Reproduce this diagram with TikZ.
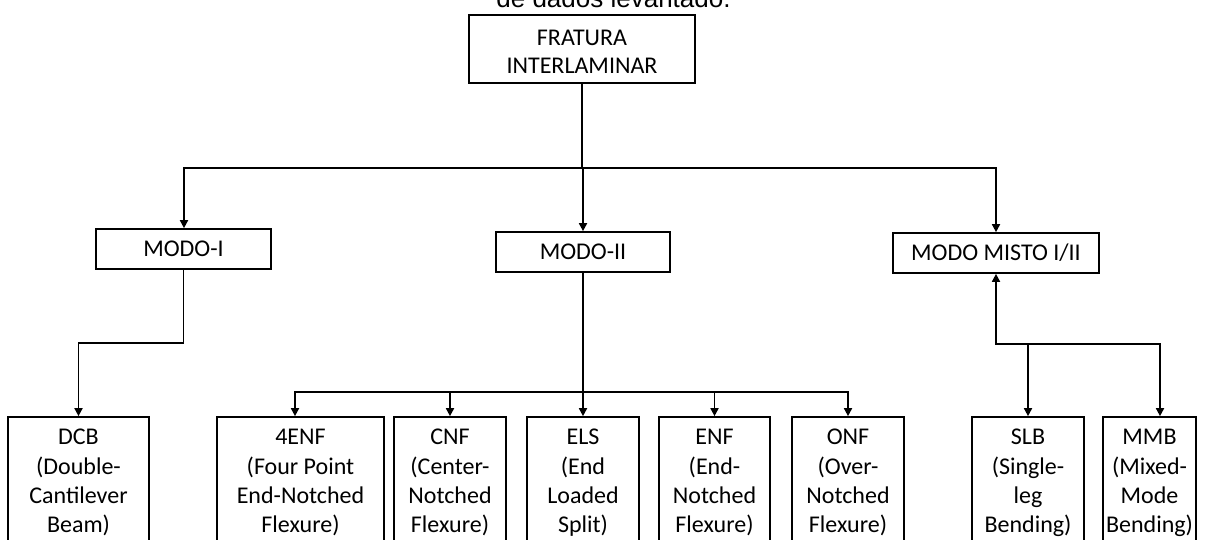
\documentclass[tikz,border=0pt]{standalone}
\usepackage{fontspec}
\setmainfont{Carlito}
\newfontfamily\arialfont{Liberation Sans}
\usetikzlibrary{arrows.meta}
\begin{document}
\begin{tikzpicture}[x=1pt,y=-1pt,
  box/.style={draw=black, line width=1.7pt, inner sep=0pt, align=center, text=black,
    font=\fontsize{24}{29.3}\selectfont},
  bbox/.style={box, minimum height=132pt},
  conn/.style={line width=1.7pt, line cap=rect},
  arr/.style={conn, -{Triangle[length=8pt,width=8pt]}}]
\clip (0,0) rectangle (1206,539);
\fill[white] (0,0) rectangle (1206,539);
% caption fragment
\node[font=\arialfont\fontsize{26}{30}\selectfont, anchor=base, inner sep=0pt] (cap) at (613.5,7.5) {de dados levantado.};
% main boxes
\node[box, minimum width=226pt, minimum height=68pt, font=\fontsize{24}{28}\selectfont] (top) at (582,49) {\rule{0pt}{20pt}FRATURA\\INTERLAMINAR};
\node[box, minimum width=175pt, minimum height=40pt] (m1) at (183.5,249) {MODO-I};
\node[box, minimum width=174pt, minimum height=40pt] (m2) at (583,252) {MODO-II};
\node[box, minimum width=206pt, minimum height=40pt] (m3) at (996,253) {MODO MISTO I/II};
% bottom boxes
\node[bbox, minimum width=141pt] (dcb) at (78.5,483) {\strut DCB\\(Double-\\Cantilever\\Beam)\strut};
\node[bbox, minimum width=167pt] (e4) at (300.5,483) {\strut 4ENF\\(Four Point\\End-Notched\\Flexure)\strut};
\node[bbox, minimum width=112pt] (cnf) at (450,483) {\strut CNF\\(Center-\\Notched\\Flexure)\strut};
\node[bbox, minimum width=112pt] (els) at (583,483) {\strut ELS\\(End\\Loaded\\Split)\strut};
\node[bbox, minimum width=111pt] (enf) at (714.5,483) {\strut ENF\\(End-\\Notched\\Flexure)\strut};
\node[bbox, minimum width=112pt] (onf) at (848,483) {\strut ONF\\(Over-\\Notched\\Flexure)\strut};
\node[bbox, minimum width=112pt] (slb) at (1028,483) {\strut SLB\\(Single-\\leg\\Bending)\strut};
\node[bbox, minimum width=93pt] (mmb) at (1149.5,483) {\strut MMB\\(Mixed-\\Mode\\Bending)\strut};
% top level connectors
\coordinate (hl) at (184,168);
\coordinate (hr) at (996,168);
\draw[conn] (top.south) -- (top.south |- hl);
\draw[conn] (hl) -- (hr);
\draw[arr] (hl) -- (hl |- m1.north);
\draw[arr] (m2.north |- hl) -- (m2.north);
\draw[arr] (hr) -- (hr |- m3.north);
% modo I
\coordinate (j1) at (78.5,343);
\draw[arr] (m1.south) |- (j1) -- (dcb.north);
% modo II
\coordinate (bus) at (295,392);
\draw[conn] (m2.south) -- (m2.south |- bus);
\draw[conn] (bus) -- (onf.north |- bus);
\draw[arr] (bus) -- (bus |- e4.north);
\draw[arr] (cnf.north |- bus) -- (cnf.north);
\draw[arr] (els.north |- bus) -- (els.north);
\draw[arr] (enf.north |- bus) -- (enf.north);
\draw[arr] (onf.north |- bus) -- (onf.north);
% modo misto
\coordinate (j3) at (996,344);
\coordinate (j4) at (1160,344);
\draw[arr] (j3) -- (j3 |- m3.south);
\draw[conn] (j3) -- (j4);
\draw[arr] (slb.north |- j3) -- (slb.north);
\draw[arr] (j4) -- (j4 |- mmb.north);
\end{tikzpicture}
\end{document}
